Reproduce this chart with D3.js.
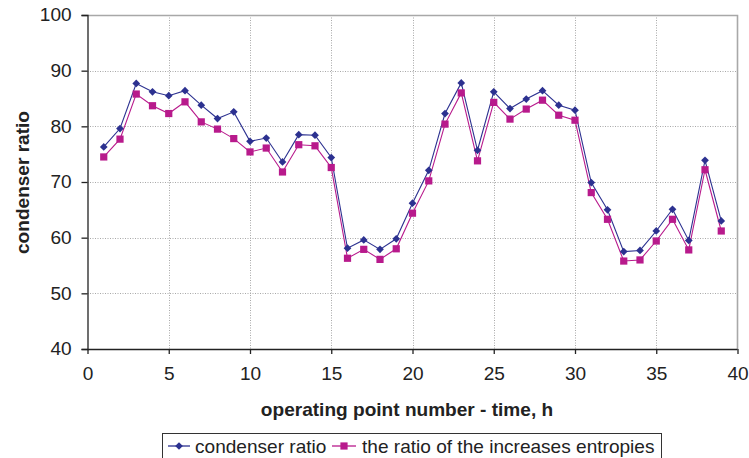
<!DOCTYPE html>
<html>
<head>
<meta charset="utf-8">
<script src="https://cdn.jsdelivr.net/npm/d3@7"></script>
<style>
  html, body { margin: 0; padding: 0; background: #fff; }
  svg { display: block; }
  text { font-family: "Liberation Sans", Arial, Helvetica, sans-serif; fill: #222; }
</style>
</head>
<body>
<svg id="chart" width="749" height="458"></svg>
<script>
const points = d3.range(1, 40);
const condenserRatio = [76.3, 79.6, 87.7, 86.2, 85.5, 86.4, 83.8, 81.4, 82.6, 77.3,
  77.9, 73.6, 78.5, 78.4, 74.4, 58.1, 59.6, 57.9, 59.8, 66.2,
  72.1, 82.3, 87.8, 75.7, 86.2, 83.2, 84.9, 86.4, 83.8, 82.9,
  69.9, 65.0, 57.5, 57.7, 61.2, 65.1, 59.5, 73.9, 63.0];
const entropyRatio = [74.5, 77.7, 85.8, 83.7, 82.3, 84.4, 80.8, 79.5, 77.8, 75.4,
  76.1, 71.8, 76.7, 76.5, 72.6, 56.3, 57.9, 56.1, 58.0, 64.4,
  70.2, 80.4, 86.0, 73.8, 84.3, 81.3, 83.1, 84.7, 82.0, 81.1,
  68.1, 63.3, 55.8, 56.0, 59.4, 63.3, 57.8, 72.2, 61.2];
const xTicks = [0, 5, 10, 15, 20, 25, 30, 35, 40];
const yTicks = [40, 50, 60, 70, 80, 90, 100];
const seriesNames = ["condenser ratio", "the ratio of the increases entropies"];
const xTitle = "operating point number - time, h";
const yTitle = "condenser ratio";

const BLUE = "#2c3190";
const PINK = "#b81a8c";
const SX = 1.06; // horizontal text stretch

const svg = d3.select("#chart");
const pLeft = 87.5, pRight = 737.5, pTop = 15, pBottom = 349;

const x = d3.scaleLinear().domain([0, 40]).range([pLeft, pRight]);
const y = d3.scaleLinear().domain([40, 100]).range([pBottom, pTop]);

// gridlines
const grid = svg.append("g");
grid.selectAll("line.h").data(yTicks.filter(v => v > 40)).enter().append("line")
  .attr("x1", pLeft).attr("x2", pRight)
  .attr("y1", d => Math.round(y(d)) + 0.5).attr("y2", d => Math.round(y(d)) + 0.5)
  .attr("stroke", "#a8a8a8").attr("stroke-width", 1).attr("stroke-dasharray", "1,1.5");
grid.selectAll("line.v").data(xTicks.filter(v => v > 0 && v < 40)).enter().append("line")
  .attr("y1", pTop).attr("y2", pBottom)
  .attr("x1", d => Math.round(x(d)) + 0.5).attr("x2", d => Math.round(x(d)) + 0.5)
  .attr("stroke", "#a8a8a8").attr("stroke-width", 1).attr("stroke-dasharray", "1,1.5");
// plot border top/right
svg.append("path")
  .attr("d", `M${pLeft},${pTop + 0.5}H${pRight}V${pBottom}`)
  .attr("fill", "none").attr("stroke", "#a8a8a8").attr("stroke-width", 1.6);

// axes
const yAxis = d3.axisLeft(y).tickValues(yTicks).tickSize(6).tickPadding(9);
const xAxis = d3.axisBottom(x).tickValues(xTicks).tickSize(5).tickPadding(13);

const gy = svg.append("g").attr("transform", `translate(${pLeft},0)`).call(yAxis);
const gx = svg.append("g").attr("transform", `translate(0,${pBottom})`).call(xAxis);
[gx, gy].forEach(g => {
  g.select(".domain").attr("stroke", "#222").attr("stroke-width", 1.3);
  g.selectAll(".tick line").attr("stroke", "#222").attr("stroke-width", 1.3);
  g.selectAll(".tick text").attr("font-size", 18).attr("fill", "#222")
    .attr("font-family", '"Liberation Sans", Arial, sans-serif')
    .attr("transform", `scale(${SX},1)`);
});
gx.select(".domain").attr("d", `M${pLeft},0.5H${pRight}`);

// titles
svg.append("text").attr("transform", `translate(407,416) scale(${SX},1)`).attr("text-anchor", "middle")
  .attr("font-size", 18).attr("font-weight", "bold").text(xTitle);
svg.append("text").attr("transform", `translate(29,182.5) rotate(-90) scale(${SX},1)`)
  .attr("text-anchor", "middle").attr("font-size", 18).attr("font-weight", "bold").text(yTitle);

// series
const line = d3.line().x((d, i) => x(points[i])).y(d => y(d));
const diamond = d3.symbol().type(d3.symbolSquare).size(30);
const square = d3.symbol().type(d3.symbolSquare).size(52);

svg.append("path").datum(entropyRatio).attr("d", line)
  .attr("fill", "none").attr("stroke", PINK).attr("stroke-width", 1.1);
svg.append("path").datum(condenserRatio).attr("d", line)
  .attr("fill", "none").attr("stroke", BLUE).attr("stroke-width", 1.1);

svg.append("g").selectAll("path").data(entropyRatio).enter().append("path")
  .attr("d", square)
  .attr("transform", (d, i) => `translate(${x(points[i])},${y(d)})`)
  .attr("fill", PINK);
svg.append("g").selectAll("path").data(condenserRatio).enter().append("path")
  .attr("d", diamond)
  .attr("transform", (d, i) => `translate(${x(points[i])},${y(d)}) rotate(45)`)
  .attr("fill", BLUE);

// legend
const lg = svg.append("g");
lg.append("rect").attr("x", 162.5).attr("y", 433.5).attr("width", 499).attr("height", 40)
  .attr("fill", "#fff").attr("stroke", "#333").attr("stroke-width", 1);
const legendItems = [
  { name: seriesNames[0], color: BLUE, sym: diamond, rot: 45, x0: 168, x1: 190, tx: 195 },
  { name: seriesNames[1], color: PINK, sym: square, rot: 0, x0: 332, x1: 356, tx: 362 }
];
legendItems.forEach(it => {
  lg.append("line").attr("x1", it.x0).attr("x2", it.x1).attr("y1", 446).attr("y2", 446)
    .attr("stroke", it.color).attr("stroke-width", 1.3);
  lg.append("path").attr("d", it.sym)
    .attr("transform", `translate(${(it.x0 + it.x1) / 2},446) rotate(${it.rot})`).attr("fill", it.color);
  lg.append("text").attr("transform", `translate(${it.tx},452.5) scale(${SX},1)`)
    .attr("font-size", 18).text(it.name);
});
</script>
</body>
</html>
